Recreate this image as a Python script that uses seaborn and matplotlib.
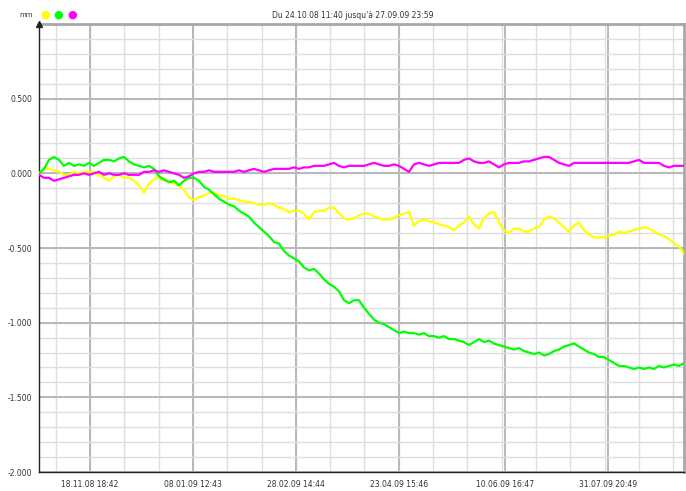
import numpy as np
import pandas as pd
from matplotlib import pyplot as plt
import seaborn as sns

# valeurs (mm), un point tous les ~2.6 jours
jaune = [0.00, 0.03, 0.03, 0.02, 0.01, -0.01, -0.01, 0.01, 0.00, 0.01, 0.01, 0.01, -0.01, -0.03, -0.05,
         -0.02, -0.01, -0.03, -0.03, -0.05, -0.08, -0.13, -0.07, -0.04, -0.03, -0.05, -0.05, -0.07, -0.08,
         -0.11, -0.16, -0.18, -0.16, -0.15, -0.13, -0.13, -0.15, -0.15, -0.17, -0.17, -0.18, -0.19, -0.19,
         -0.20, -0.21, -0.21, -0.20, -0.21, -0.23, -0.24, -0.26, -0.25, -0.25, -0.27, -0.31, -0.26, -0.25,
         -0.25, -0.23, -0.23, -0.27, -0.30, -0.31, -0.30, -0.28, -0.27, -0.27, -0.29, -0.30, -0.31, -0.31,
         -0.30, -0.28, -0.27, -0.26, -0.35, -0.32, -0.31, -0.32, -0.33, -0.34, -0.35, -0.36, -0.38, -0.35,
         -0.33, -0.29, -0.34, -0.37, -0.30, -0.27, -0.26, -0.33, -0.38, -0.40, -0.37, -0.37, -0.39, -0.39,
         -0.37, -0.36, -0.31, -0.29, -0.30, -0.33, -0.36, -0.39, -0.35, -0.33, -0.38, -0.41, -0.43, -0.43,
         -0.43, -0.42, -0.41, -0.39, -0.40, -0.39, -0.38, -0.37, -0.36, -0.37, -0.39, -0.41, -0.42, -0.44,
         -0.47, -0.49, -0.54]

vert = [0.00, 0.03, 0.09, 0.11, 0.09, 0.05, 0.07, 0.05, 0.06, 0.05, 0.07, 0.05, 0.07, 0.09, 0.09, 0.08,
        0.10, 0.11, 0.08, 0.06, 0.05, 0.04, 0.05, 0.03, -0.02, -0.04, -0.06, -0.05, -0.08, -0.05, -0.03,
        -0.03, -0.05, -0.09, -0.11, -0.14, -0.17, -0.19, -0.21, -0.22, -0.25, -0.27, -0.29, -0.33, -0.36,
        -0.39, -0.42, -0.46, -0.47, -0.52, -0.55, -0.57, -0.59, -0.63, -0.65, -0.64, -0.67, -0.71, -0.74,
        -0.76, -0.79, -0.85, -0.87, -0.85, -0.85, -0.90, -0.94, -0.98, -1.00, -1.01, -1.03, -1.05, -1.07,
        -1.06, -1.07, -1.07, -1.08, -1.07, -1.09, -1.09, -1.10, -1.09, -1.11, -1.11, -1.12, -1.13, -1.15,
        -1.13, -1.11, -1.13, -1.12, -1.14, -1.15, -1.16, -1.17, -1.18, -1.17, -1.19, -1.20, -1.21, -1.20,
        -1.22, -1.21, -1.19, -1.18, -1.16, -1.15, -1.14, -1.16, -1.18, -1.20, -1.21, -1.23, -1.23, -1.25,
        -1.27, -1.29, -1.29, -1.30, -1.31, -1.30, -1.31, -1.30, -1.31, -1.29, -1.30, -1.29, -1.28, -1.29,
        -1.27]

magenta = [-0.01, -0.03, -0.03, -0.05, -0.04, -0.03, -0.02, -0.01, -0.01, 0.00, -0.01, 0.00, 0.01, -0.01,
           0.00, -0.01, -0.01, 0.00, -0.01, -0.01, -0.01, 0.01, 0.01, 0.02, 0.01, 0.02, 0.01, 0.00, -0.01,
           -0.03, -0.02, 0.00, 0.01, 0.01, 0.02, 0.01, 0.01, 0.01, 0.01, 0.01, 0.02, 0.01, 0.02, 0.03, 0.02,
           0.01, 0.02, 0.03, 0.03, 0.03, 0.03, 0.04, 0.03, 0.04, 0.04, 0.05, 0.05, 0.05, 0.06, 0.07, 0.05,
           0.04, 0.05, 0.05, 0.05, 0.05, 0.06, 0.07, 0.06, 0.05, 0.05, 0.06, 0.05, 0.03, 0.01, 0.06, 0.07,
           0.06, 0.05, 0.06, 0.07, 0.07, 0.07, 0.07, 0.07, 0.09, 0.10, 0.08, 0.07, 0.07, 0.08, 0.06, 0.04,
           0.06, 0.07, 0.07, 0.07, 0.08, 0.08, 0.09, 0.10, 0.11, 0.11, 0.09, 0.07, 0.06, 0.05, 0.07, 0.07,
           0.07, 0.07, 0.07, 0.07, 0.07, 0.07, 0.07, 0.07, 0.07, 0.07, 0.08, 0.09, 0.07, 0.07, 0.07, 0.07,
           0.05, 0.04, 0.05, 0.05, 0.05]

duree_jours = 338.5  # du 24.10.08 11:40 au 27.09.09 23:59
ticks_majeurs = [26.8, 80.8, 134.9, 188.9, 244.6, 298.7]
labels_x = ['18.11.08 18:42', '08.01.09 12:43', '28.02.09 14:44',
            '23.04.09 15:46', '10.06.09 16:47', '31.07.09 20:49']
ticks_y = [0.5, 0.0, -0.5, -1.0, -1.5, -2.0]
titre = "Du 24.10.08 11:40 jusqu'à 27.09.09 23:59"

couleurs = {'jaune': '#ffff00', 'vert': '#00ff00', 'magenta': '#ff00ff'}

frames = []
for nom, serie in [('jaune', jaune), ('vert', vert), ('magenta', magenta)]:
    t = np.linspace(0, duree_jours, len(serie))
    frames.append(pd.DataFrame({'t': t, 'mm': serie, 'serie': nom}))
df = pd.concat(frames, ignore_index=True)

sns.set_style('white')
plt.rcParams['font.family'] = ['DejaVu Sans']

fig = plt.figure(figsize=(6.86, 4.91), dpi=100)
ax = fig.add_axes([39 / 686, 1 - 472 / 491, 645 / 686, 448 / 491])

# grille: mineure tous les 0.1 mm / 1/3 d'intervalle, majeure sur les étiquettes
pas = (ticks_majeurs[1] - ticks_majeurs[0]) / 3
mineurs_x = np.arange(ticks_majeurs[0] - pas, duree_jours, pas)
for x in mineurs_x:
    ax.axvline(x, color='#dedede', lw=1.0, zorder=0)
for x in ticks_majeurs:
    ax.axvline(x, color='#b8b8b8', lw=1.4, zorder=0)
for y in np.arange(-2.0, 1.0, 0.1):
    ax.axhline(y, color='#dedede', lw=1.0, zorder=0)
for y in ticks_y:
    ax.axhline(y, color='#b8b8b8', lw=1.4, zorder=0)

sns.lineplot(data=df, x='t', y='mm', hue='serie', palette=couleurs,
             hue_order=['jaune', 'vert', 'magenta'], lw=1.6, legend=False, ax=ax,
             estimator=None, sort=False, zorder=3)

ax.set_xlim(0, duree_jours)
ax.set_ylim(-2.0, 1.0)
ax.set_xticks(ticks_majeurs)
ax.set_xticklabels(labels_x)
ax.set_xticks(mineurs_x, minor=True)
ax.set_yticks(ticks_y)
ax.set_yticklabels([f'{v:.3f}' for v in ticks_y])
ax.set_yticks(np.arange(-2.0, 1.0, 0.1), minor=True)
ax.set_xlabel('')
ax.set_ylabel('')
ax.tick_params(axis='both', which='both', direction='out', length=3, width=0.8,
               color='#333333', labelsize=5.5, labelcolor='#333333', pad=2)
ax.tick_params(axis='x', which='major', pad=3)
ax.tick_params(which='minor', length=2)

for s in ['left', 'bottom']:
    ax.spines[s].set_color('#222222')
    ax.spines[s].set_linewidth(1.0)
for s in ['top', 'right']:
    ax.spines[s].set_color('#a8a8a8')
    ax.spines[s].set_linewidth(2.0)

# flèche en haut de l'axe vertical
ax.plot([0], [1.0], marker='^', color='#222222', markersize=4, transform=ax.get_yaxis_transform(),
        clip_on=False, zorder=5)

# en-tête: unité, pastilles de couleur, période
fig.text(26 / 686, 1 - 15 / 491, 'mm', fontsize=5, color='#333333', ha='center', va='center')
for i, c in enumerate(couleurs.values()):
    fig.text((45 + 13.5 * i) / 686, 1 - 15 / 491, '●', fontsize=8, color=c, ha='center', va='center')
fig.text(353 / 686, 1 - 15 / 491, titre, fontsize=5.5, color='#333333', ha='center', va='center')

plt.savefig('out.png', dpi=100)
plt.close()
